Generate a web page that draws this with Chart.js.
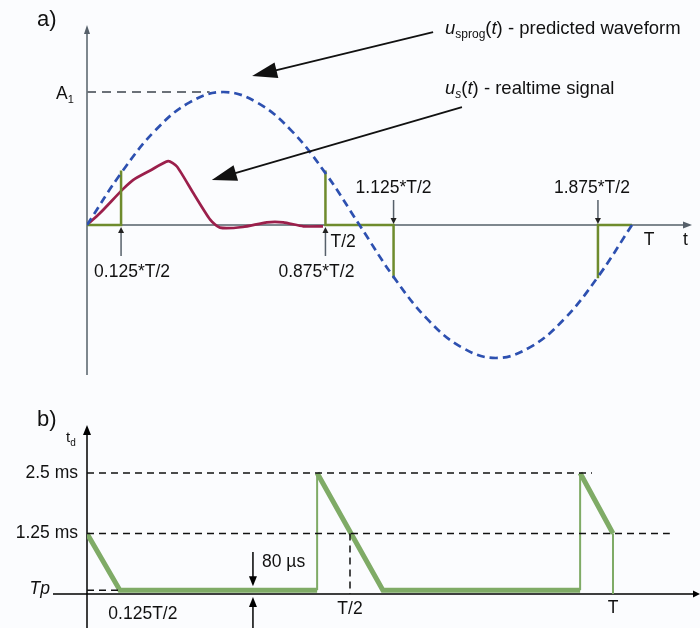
<!DOCTYPE html>
<html>
<head>
<meta charset="utf-8">
<script src="https://cdn.jsdelivr.net/npm/chart.js@4.4.1/dist/chart.umd.min.js"></script>
<style>
    body { margin: 0; background: #fbfcfe; }
    #wrap { position: relative; width: 700px; height: 628px; }
    #chartA { position: absolute; left: 0; top: 0; }
    #chartB { position: absolute; left: 0; top: 390px; }
</style>
</head>
<body>
<div id="wrap">
    <canvas id="chartA" width="700" height="390" style="width:700px;height:390px"></canvas>
    <canvas id="chartB" width="700" height="238" style="width:700px;height:238px"></canvas>
</div>
<script>
// panel a) - time in periods T, amplitude in units of A1
const predT = [0, 0.0625, 0.125, 0.1875, 0.25, 0.3125, 0.375, 0.4375, 0.5, 0.5625, 0.625, 0.6875, 0.75, 0.8125, 0.875, 0.9375, 1];
const predicted = [0, 0.39, 0.71, 0.92, 1, 0.92, 0.71, 0.39, 0, -0.39, -0.71, -0.92, -1, -0.92, -0.71, -0.39, 0];

const realT = [0, 0.024, 0.066, 0.085, 0.116, 0.149, 0.165, 0.195, 0.226, 0.244, 0.286, 0.33, 0.36, 0.397, 0.433];
const realtime = [0, 0.09, 0.27, 0.34, 0.41, 0.48, 0.44, 0.24, 0.04, -0.02, -0.015, 0.02, 0.02, -0.01, -0.01];

const sampleT = [0, 0.0625, 0.0625, 0.0625, 0.4375, 0.4375, 0.5625, 0.5625, 0.5625, 0.9375, 0.9375, 1];
const sampled = [0, 0, 0.41, null, 0.41, 0, 0, -0.4, null, -0.4, 0, 0];

// panel b) - delay td in ms
const delayT = [0, 0.0625, 0.4375, 0.4375, 0.4375, 0.5625, 0.9375, 0.9375, 0.9375, 1];
const delay = [1.25, 0.08, 0.08, null, 2.5, 0.08, 0.08, null, 2.5, 1.25];
const jumpT = [0.4375, 0.4375, 0.4375, 0.9375, 0.9375, 0.9375, 1, 1];
const jump = [0.08, 2.5, null, 0.08, 2.5, null, 1.25, 0];

const levels = [2.5, 1.25, 0.08];
const levelEnd = [0.96, 1.108, 0.0625];
const levelLabels = ['2.5 ms', '1.25 ms', 'Tp'];

const FONT = '"Liberation Sans", Arial, sans-serif';

function pts(xs, ys) {
    return xs.map((x, i) => ({ x: x, y: ys[i] }));
}

function arrowHead(ctx, x1, y1, x2, y2, len, w) {
    const a = Math.atan2(y2 - y1, x2 - x1);
    ctx.beginPath();
    ctx.moveTo(x2, y2);
    ctx.lineTo(x2 - len * Math.cos(a) + w / 2 * Math.sin(a), y2 - len * Math.sin(a) - w / 2 * Math.cos(a));
    ctx.lineTo(x2 - len * Math.cos(a) - w / 2 * Math.sin(a), y2 - len * Math.sin(a) + w / 2 * Math.cos(a));
    ctx.closePath();
    ctx.fill();
}

function arrow(ctx, x1, y1, x2, y2, len, w, lw) {
    const a = Math.atan2(y2 - y1, x2 - x1);
    ctx.lineWidth = lw;
    ctx.beginPath();
    ctx.moveTo(x1, y1);
    ctx.lineTo(x2 - len * 0.8 * Math.cos(a), y2 - len * 0.8 * Math.sin(a));
    ctx.stroke();
    arrowHead(ctx, x1, y1, x2, y2, len, w);
}

function rich(ctx, x, y, parts) {
    ctx.textAlign = 'left';
    ctx.textBaseline = 'alphabetic';
    parts.forEach(p => {
        ctx.font = p.f;
        ctx.fillText(p.t, x, y + (p.dy || 0));
        x += ctx.measureText(p.t).width;
    });
}

function label(ctx, text, x, y, align, font) {
    ctx.font = font || ('17.5px ' + FONT);
    ctx.textAlign = align;
    ctx.textBaseline = 'middle';
    ctx.fillText(text, x, y);
}

function baseOptions(xmax, ymin, ymax, pad) {
    return {
        responsive: false,
        animation: false,
        layout: { padding: pad },
        plugins: { legend: { display: false }, tooltip: { enabled: false } },
        elements: { point: { radius: 0 } },
        scales: {
            x: { type: 'linear', display: false, min: 0, max: xmax },
            y: { type: 'linear', display: false, min: ymin, max: ymax }
        }
    };
}

// ---------- panel a ----------
const panelA = {
    id: 'panelA',
    beforeDatasetsDraw(chart) {
        const ctx = chart.ctx;
        const x = chart.scales.x, y = chart.scales.y;
        const x0 = x.getPixelForValue(0), y0 = y.getPixelForValue(0);
        ctx.save();
        ctx.strokeStyle = '#56606a';
        ctx.fillStyle = '#56606a';
        ctx.lineWidth = 1.5;
        ctx.beginPath();
        ctx.moveTo(x0, chart.chartArea.bottom);
        ctx.lineTo(x0, chart.chartArea.top + 6);
        ctx.moveTo(x0, y0);
        ctx.lineTo(chart.chartArea.right - 6, y0);
        ctx.stroke();
        arrowHead(ctx, x0, 100, x0, chart.chartArea.top, 9, 6);
        arrowHead(ctx, x0, y0, chart.chartArea.right + 2, y0, 9, 7);
        ctx.restore();
    },
    afterDatasetsDraw(chart) {
        const ctx = chart.ctx;
        const x = chart.scales.x, y = chart.scales.y;
        const y0 = y.getPixelForValue(0);
        ctx.save();
        ctx.fillStyle = '#111';
        ctx.strokeStyle = '#56606a';

        // small markers at the sample instants
        [0.0625, 0.4375].forEach(t => {
            const px = x.getPixelForValue(t);
            ctx.lineWidth = 1.5;
            ctx.beginPath();
            ctx.moveTo(px, y0 + 31);
            ctx.lineTo(px, y0 + 6);
            ctx.stroke();
            ctx.fillStyle = '#222';
            arrowHead(ctx, px, y0 + 20, px, y0 + 2, 6, 6);
        });
        [0.5625, 0.9375].forEach(t => {
            const px = x.getPixelForValue(t);
            ctx.lineWidth = 1.5;
            ctx.beginPath();
            ctx.moveTo(px, y0 - 25);
            ctx.lineTo(px, y0 - 5);
            ctx.stroke();
            ctx.fillStyle = '#222';
            arrowHead(ctx, px, y0 - 20, px, y0 - 1, 6, 6);
        });

        ctx.fillStyle = '#111';
        label(ctx, '0.125*T/2', x.getPixelForValue(0.0625) + 11, y0 + 47, 'center');
        label(ctx, 'T/2', x.getPixelForValue(0.4375) + 5, y0 + 17, 'left');
        label(ctx, '0.875*T/2', x.getPixelForValue(0.4375) - 9, y0 + 47, 'center');
        label(ctx, '1.125*T/2', x.getPixelForValue(0.5625), y0 - 37, 'center');
        label(ctx, '1.875*T/2', x.getPixelForValue(0.9375) - 6, y0 - 37, 'center');
        label(ctx, 'T', x.getPixelForValue(1) + 17, y0 + 15, 'center');
        label(ctx, 't', x.getPixelForValue(1.098), y0 + 15, 'center');
        label(ctx, 'a)', 37, 20, 'left', '22px ' + FONT);

        const yA = y.getPixelForValue(1);
        rich(ctx, 56, yA + 7, [
            { t: 'A', f: '17.5px ' + FONT },
            { t: '1', f: '11px ' + FONT, dy: 4 }
        ]);

        rich(ctx, 445, 34, [
            { t: 'u', f: 'italic 18.5px ' + FONT },
            { t: 'sprog', f: '12px ' + FONT, dy: 4 },
            { t: '(', f: '18.5px ' + FONT },
            { t: 't', f: 'italic 18.5px ' + FONT },
            { t: ') - predicted waveform', f: '18.5px ' + FONT }
        ]);
        rich(ctx, 445, 94, [
            { t: 'u', f: 'italic 18.5px ' + FONT },
            { t: 's', f: 'italic 12px ' + FONT, dy: 4 },
            { t: '(', f: '18.5px ' + FONT },
            { t: 't', f: 'italic 18.5px ' + FONT },
            { t: ') - realtime signal', f: '18.5px ' + FONT }
        ]);

        // pointer arrows to the two curves
        ctx.strokeStyle = '#111';
        ctx.fillStyle = '#111';
        arrow(ctx, x.getPixelForValue(0.635), y.getPixelForValue(1.45),
            x.getPixelForValue(0.303), y.getPixelForValue(1.12), 25, 16, 1.8);
        arrow(ctx, x.getPixelForValue(0.688), y.getPixelForValue(0.887),
            x.getPixelForValue(0.229), y.getPixelForValue(0.338), 25, 16, 1.8);
        ctx.restore();
    }
};

new Chart(document.getElementById('chartA').getContext('2d'), {
    type: 'scatter',
    data: {
        datasets: [
            {
                data: [{ x: 0, y: 1 }, { x: 0.225, y: 1 }],
                showLine: true, borderColor: '#6b7178', borderWidth: 2, borderDash: [9, 6]
            },
            {
                data: pts(predT, predicted),
                showLine: true, tension: 0.4, borderColor: '#2d50b0', borderWidth: 2.7, borderDash: [8, 5]
            },
            {
                data: pts(sampleT, sampled),
                showLine: true, tension: 0, spanGaps: false, borderColor: '#6e8b2d', borderWidth: 2.5
            },
            {
                data: pts(realT, realtime),
                showLine: true, tension: 0.2, borderColor: '#9b1f4b', borderWidth: 2.7
            }
        ]
    },
    options: baseOptions(1.1064, -1.128, 1.504, { left: 87, right: 10, top: 25, bottom: 15 }),
    plugins: [panelA]
});

// ---------- panel b ----------
const panelB = {
    id: 'panelB',
    beforeDatasetsDraw(chart) {
        const ctx = chart.ctx;
        const x = chart.scales.x, y = chart.scales.y;
        const x0 = x.getPixelForValue(0), y0 = y.getPixelForValue(0);
        ctx.save();
        ctx.strokeStyle = '#000';
        ctx.fillStyle = '#000';
        ctx.lineWidth = 1.5;
        ctx.beginPath();
        ctx.moveTo(x0, chart.chartArea.bottom);
        ctx.lineTo(x0, chart.chartArea.top + 6);
        ctx.moveTo(53, y0);
        ctx.lineTo(694, y0);
        ctx.stroke();
        arrowHead(ctx, x0, 100, x0, chart.chartArea.top, 10, 8);
        arrowHead(ctx, 600, y0, 700, y0, 7, 7);
        ctx.restore();
    },
    afterDatasetsDraw(chart) {
        const ctx = chart.ctx;
        const x = chart.scales.x, y = chart.scales.y;
        const y0 = y.getPixelForValue(0);
        ctx.save();
        ctx.fillStyle = '#111';
        label(ctx, 'b)', 37, 30, 'left', '22px ' + FONT);
        rich(ctx, 66, 52, [
            { t: 't', f: '15px ' + FONT },
            { t: 'd', f: '10px ' + FONT, dy: 4 }
        ]);
        label(ctx, levelLabels[0], 78, y.getPixelForValue(levels[0]), 'right');
        label(ctx, levelLabels[1], 78, y.getPixelForValue(levels[1]), 'right');
        label(ctx, levelLabels[2], 50, y.getPixelForValue(levels[2]) - 1, 'right', 'italic 17.5px ' + FONT);
        label(ctx, '0.125T/2', x.getPixelForValue(0.0625) + 23, y0 + 20, 'center');
        label(ctx, 'T/2', x.getPixelForValue(0.5), y0 + 15, 'center');
        label(ctx, 'T', x.getPixelForValue(1), y0 + 14, 'center');
        label(ctx, '80 \u00b5s', 262, y0 - 32, 'left');

        // 80 us marker
        const ax = x.getPixelForValue(0.3155);
        ctx.strokeStyle = '#000';
        ctx.fillStyle = '#000';
        arrow(ctx, ax, y0 - 42, ax, y.getPixelForValue(levels[2]) - 4, 10, 8, 1.5);
        arrow(ctx, ax, 238, ax, y0 + 3, 10, 8, 1.5);
        ctx.restore();
    }
};

const dashed = { showLine: true, borderColor: '#111', borderWidth: 1.5, borderDash: [7, 5] };

new Chart(document.getElementById('chartB').getContext('2d'), {
    type: 'scatter',
    data: {
        datasets: [
            Object.assign({ data: [{ x: 0, y: levels[0] }, { x: levelEnd[0], y: levels[0] }] }, dashed),
            Object.assign({ data: [{ x: 0, y: levels[1] }, { x: levelEnd[1], y: levels[1] }] }, dashed),
            Object.assign({ data: [{ x: 0, y: levels[2] }, { x: levelEnd[2], y: levels[2] }] }, dashed),
            Object.assign({ data: [{ x: 0.5, y: levels[1] }, { x: 0.5, y: 0 }] }, dashed),
            {
                data: pts(jumpT, jump),
                showLine: true, tension: 0, spanGaps: false, borderColor: '#7fab66', borderWidth: 2
            },
            {
                data: pts(delayT, delay),
                showLine: true, tension: 0, spanGaps: false, borderColor: '#7fab66', borderWidth: 5
            }
        ]
    },
    options: baseOptions(1.1654, -0.702, 3.492, { left: 87, right: 0, top: 35, bottom: 0 }),
    plugins: [panelB]
});
</script>
</body>
</html>
